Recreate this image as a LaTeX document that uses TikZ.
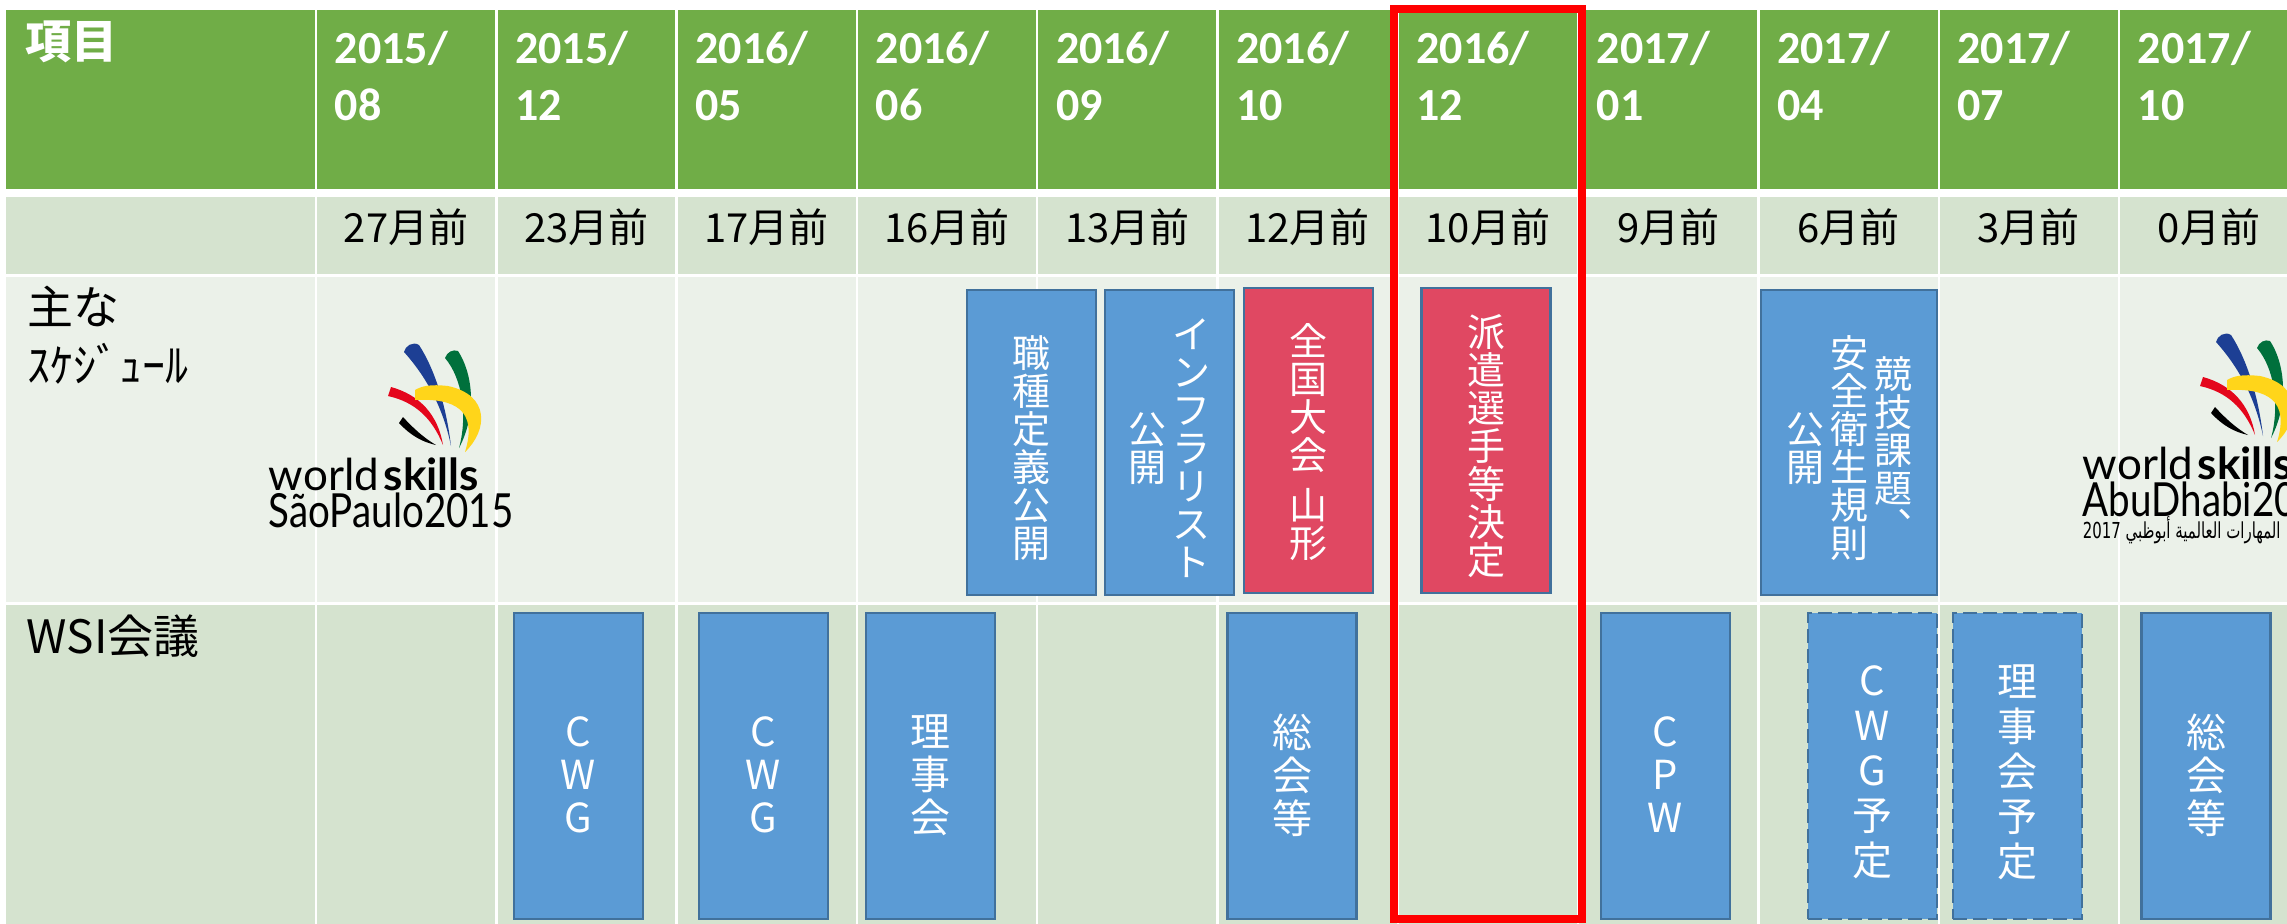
\documentclass[tikz,border=0pt]{standalone}
\usepackage{fontspec}
\setmainfont{Noto Sans CJK JP}
\newfontfamily\calfont{Carlito}
\newfontfamily\logofont{Lato}
\newfontfamily\arabicfont[Script=Arabic]{DejaVu Sans}
\TeXXeTstate=1
\usetikzlibrary{positioning}
\definecolor{hdgreen}{HTML}{70AD47}
\definecolor{bandA}{HTML}{D5E3CF}
\definecolor{bandB}{HTML}{EBF1E9}
\definecolor{boxblue}{HTML}{5B9BD5}
\definecolor{boxline}{HTML}{41719C}
\definecolor{boxred}{HTML}{E04862}
\definecolor{wsblue}{HTML}{1D3F94}
\definecolor{wsgreen}{HTML}{00703C}
\definecolor{wsred}{HTML}{E4061C}
\definecolor{wsyellow}{HTML}{FFD51A}
% stacked (vertical) text, one character per row
\newcommand{\tate}[2][0pt]{\raisebox{#1}[\height][\depth]{$\vcenter{\lineskiplimit=-\maxdimen\let\\=\cr
  \halign{\hfil##\hfil\cr#2\crcr}}$}}
\newcommand{\swoosh}{%
  \fill [wsblue] (404, 352) .. controls (422, 372) and (442, 402) .. (451, 446)
    .. controls (446, 404) and (434, 368) .. (419, 345) .. controls (413, 341) and (405, 346) .. cycle;
  \fill [wsgreen] (445, 358) .. controls (462, 378) and (468, 415) .. (459, 448)
    .. controls (478, 412) and (472, 372) .. (458, 351) .. controls (453, 349) and (447, 352) .. cycle;
  \fill [wsred] (388, 396) .. controls (415, 402) and (432, 418) .. (443, 445)
    .. controls (438, 415) and (420, 395) .. (391, 387) -- cycle;
  \fill [black] (399, 423) .. controls (410, 435) and (422, 442) .. (436, 445)
    .. controls (424, 438) and (413, 428) .. (403, 417) -- cycle;
  \fill [wsyellow] (415, 400) .. controls (455, 398) and (478, 410) .. (465, 452)
    .. controls (488, 430) and (490, 395) .. (448, 386) .. controls (430, 384) and (422, 386) .. (415, 390) -- cycle;}
\tikzset{
  plan/.style = {draw = boxline, line width = 0.6pt, fill = boxblue, text = white, inner sep = 0,
    minimum width = 32.25pt, minimum height = 76.25pt, font = \fontsize{9.5}{9.5}\selectfont},
  hot/.style = {plan, fill = boxred},
  meet/.style = {plan, minimum height = 76.5pt, font = \fontsize{10}{10.75}\selectfont},
  tbd/.style = {meet, dash pattern = on 3.5pt off 1.5pt, font = \fontsize{10}{11.25}\selectfont},
  date/.style = {anchor = base west, align = left, inner sep = 0, text = white,
    font = \calfont\bfseries\fontsize{11.5}{14.25}\selectfont},
  ago/.style = {anchor = base, inner sep = 0, font = \fontsize{10}{10}\selectfont},
  lbl/.style = {anchor = base west, align = left, inner sep = 0, font = \fontsize{11.5}{14.5}\selectfont}
}
\begin{document}
\begin{tikzpicture}[x = 0.25pt, y = -0.25pt]
  \useasboundingbox (0, 0) rectangle (2287, 923);
  \clip (0, 0) rectangle (2287, 923);

  \fill [hdgreen] (6, 10) rectangle (2300, 189);
  \fill [bandA] (6, 197) rectangle (2300, 274);
  \fill [bandB] (6, 277) rectangle (2300, 602);
  \fill [bandA] (6, 605) rectangle (2300, 930);
  \foreach \k in {0, ..., 10}
    \draw [white, line width = 0.6pt] ({316 + 180.3*\k}, 0) -- ({316 + 180.3*\k}, 930);

  \node [anchor = base west, inner sep = 0, text = white, font = \bfseries\fontsize{11.5}{11.5}\selectfont] (item) at (25, 58) {項目};
  \foreach \i/\yr/\mo/\ago in {1/2015/08/27, 2/2015/12/23, 3/2016/05/17, 4/2016/06/16, 5/2016/09/13, 6/2016/10/12,
      7/2016/12/10, 8/2017/01/9, 9/2017/04/6, 10/2017/07/3, 11/2017/10/0} {
    \node [date] (d\i) at ({334 + 180.3*(\i-1)}, 120) {\yr/\\\mo};
    \node [ago] (m\i) at ({406 + 180.3*(\i-1)}, 242) {\ago 月前};
  }

  \node [lbl] (sched) at (27, 382) {主な\\ｽｹｼﾞｭｰﾙ};
  \node [lbl] (wsi) at (26, 653) {WSI会議};

  % logos
  \swoosh
  \node [anchor = base west, inner sep = 0, font = \logofont\fontsize{11}{11}\selectfont] (sp1) at (268, 490) {world\hspace{1.2pt}\textbf{skills}};
  \node [anchor = base west, inner sep = 0, font = \logofont\fontsize{11.75}{11.75}\selectfont] (sp2) at (268, 527) {\scalebox{0.82}[1]{SãoPaulo2015}};
  \begin{scope}[shift = {(1812, -10)}]
    \swoosh
  \end{scope}
  \node [anchor = base west, inner sep = 0, font = \logofont\fontsize{11}{11}\selectfont] (ad1) at (2082, 479) {world\hspace{1.2pt}\textbf{skills}};
  \node [anchor = base west, inner sep = 0, font = \logofont\fontsize{11.75}{11.75}\selectfont] (ad2) at (2082, 516) {\scalebox{0.82}[1]{AbuDhabi2017}};
  \node [anchor = base west, inner sep = 0, font = \arabicfont\fontsize{5.5}{5.5}\selectfont] (ad3) at (2082, 538)
    {\scalebox{0.68}[1]{\beginR المهارات العالمية أبوظبي \beginL2017\endL\endR}};

  % schedule
  \node [plan] (spec) at (1031.5, 442.5) {\tate[-1.5pt]{職\\種\\定\\義\\公\\開}};
  \node [plan] (infra) at (1169.5, 442.5) {\tate[-1.5pt]{公\\開}\hspace{1.5pt}\tate[-1.5pt]{イ\\ン\\フ\\ラ\\リ\\ス\\ト}};
  \node [hot] (natl) at (1308.5, 440.5) {\tate[-0.5pt]{全\\国\\大\\会\\\noalign{\vskip 3pt}山\\形}};
  \node [hot] (pick) at (1486, 440.5) {\tate[-1.5pt]{派\\遣\\選\\手\\等\\決\\定}};
  \node [plan, minimum width = 44pt] (task) at (1849, 442.5)
    {\tate[-1.5pt]{公\\開}\hspace{1.5pt}\tate[-1.5pt]{安\\全\\衛\\生\\規\\則}\hspace{1.5pt}\tate[-1.5pt]{競\\技\\課\\題\\︑}};

  % WSI meetings
  \node [meet] (cwg1) at (578.5, 766) {\tate[-2.25pt]{C\\W\\G}};
  \node [meet] (cwg2) at (763.5, 766) {\tate[-2.25pt]{C\\W\\G}};
  \node [meet] (bd1) at (930.5, 766) {\tate[-2.25pt]{理\\事\\会}};
  \node [meet] (ga1) at (1292, 766) {\tate[-2.25pt]{総\\会\\等}};
  \node [meet] (cpw) at (1665.5, 766) {\tate[-2.25pt]{C\\P\\W}};
  \node [tbd] (cwg3) at (1872.5, 766) {\tate[-1.6pt]{C\\W\\G\\予\\定}};
  \node [tbd] (bd2) at (2017.5, 766) {\tate[-1.6pt]{理\\事\\会\\予\\定}};
  \node [meet] (ga2) at (2206, 766) {\tate[-2.25pt]{総\\会\\等}};

  \draw [red, line width = 2pt] (1394, 9) rectangle (1582, 919);
\end{tikzpicture}
\end{document}
